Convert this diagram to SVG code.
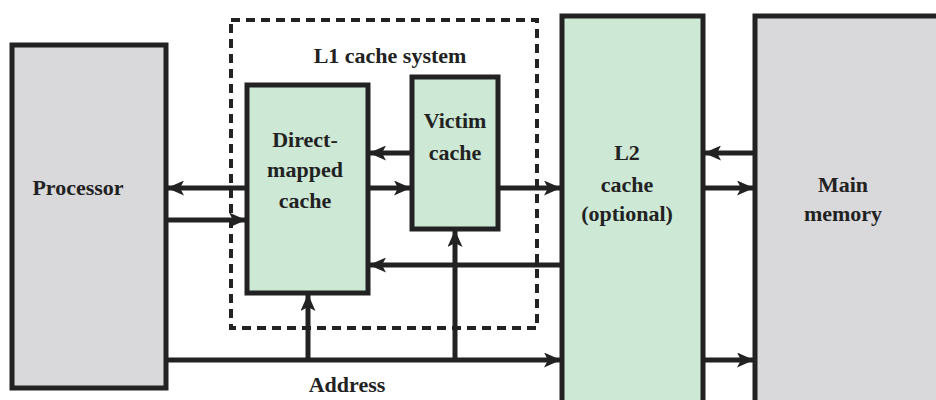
<svg xmlns="http://www.w3.org/2000/svg" width="936" height="400" viewBox="0 0 936 400">
<style>
.box{stroke:#222;stroke-width:5}
.green{fill:#cde8d5}
.grey{fill:#d9d9dc}
.lbl{font-weight:bold;font-size:22px;fill:#222;text-anchor:middle}
.ln{stroke:#222;stroke-width:5;fill:none}
</style>
<defs>
<marker id="ah" viewBox="0 0 17 15" refX="16" refY="7.5" markerWidth="17" markerHeight="15" markerUnits="userSpaceOnUse" orient="auto">
<path d="M0,0 L17,7.5 L0,15 L4,7.5 z" fill="#222"/>
</marker>
</defs>
<rect width="936" height="400" fill="#fff"/>
<g font-family="Liberation Serif, Times New Roman, DejaVu Serif, serif">
<g id="l1system">
<rect x="231" y="20" width="306" height="308" fill="none" stroke="#222" stroke-width="4" stroke-dasharray="9,6"/>
<text class="lbl" x="390" y="63">L1 cache system</text>
</g>
<g id="processor">
<rect class="box grey" x="12" y="45" width="154" height="343"/>
<text class="lbl" x="78" y="195">Processor</text>
</g>
<g id="direct">
<rect class="box green" x="247" y="85" width="121" height="208"/>
<text class="lbl" x="305" y="147">Direct-</text>
<text class="lbl" x="305" y="177">mapped</text>
<text class="lbl" x="305" y="208">cache</text>
</g>
<g id="victim">
<rect class="box green" x="412" y="77" width="86" height="152"/>
<text class="lbl" x="455" y="128">Victim</text>
<text class="lbl" x="455" y="160">cache</text>
</g>
<g id="l2">
<rect class="box green" x="562" y="16" width="141" height="390"/>
<text class="lbl" x="627" y="160">L2</text>
<text class="lbl" x="627" y="192">cache</text>
<text class="lbl" x="627" y="221">(optional)</text>
</g>
<g id="main">
<rect class="box grey" x="755" y="16" width="190" height="390"/>
<text class="lbl" x="843" y="192">Main</text>
<text class="lbl" x="843" y="221">memory</text>
</g>
<g id="address">
<text class="lbl" x="347" y="392">Address</text>
</g>
</g>
<g id="connectors">
<line class="ln" x1="247" y1="188" x2="168" y2="188" marker-end="url(#ah)"/>
<line class="ln" x1="166" y1="220" x2="245" y2="220" marker-end="url(#ah)"/>
<line class="ln" x1="412" y1="153" x2="370" y2="153" marker-end="url(#ah)"/>
<line class="ln" x1="368" y1="188" x2="410" y2="188" marker-end="url(#ah)"/>
<line class="ln" x1="498" y1="188" x2="560" y2="188" marker-end="url(#ah)"/>
<line class="ln" x1="562" y1="265" x2="370" y2="265" marker-end="url(#ah)"/>
<line class="ln" x1="166" y1="360" x2="560" y2="360" marker-end="url(#ah)"/>
<line class="ln" x1="308" y1="360" x2="308" y2="295" marker-end="url(#ah)"/>
<line class="ln" x1="455" y1="360" x2="455" y2="231" marker-end="url(#ah)"/>
<line class="ln" x1="755" y1="153" x2="705" y2="153" marker-end="url(#ah)"/>
<line class="ln" x1="703" y1="188" x2="753" y2="188" marker-end="url(#ah)"/>
<line class="ln" x1="703" y1="360" x2="753" y2="360" marker-end="url(#ah)"/>
</g>
</svg>
